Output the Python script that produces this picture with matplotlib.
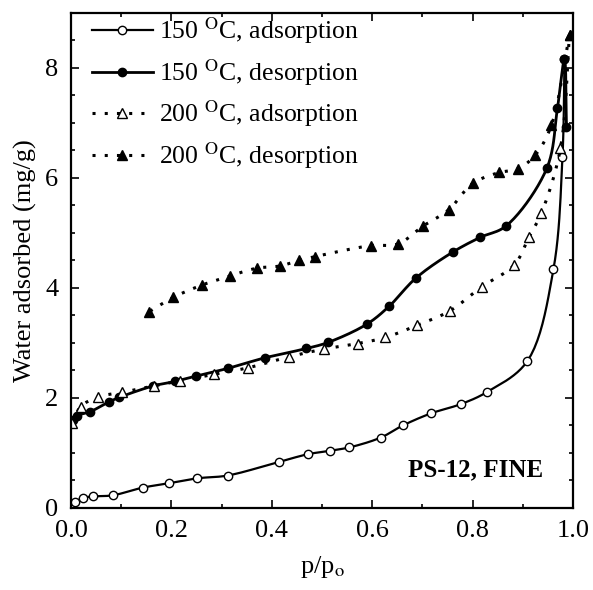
import numpy as np
import matplotlib.pyplot as plt
from matplotlib.ticker import MultipleLocator

plt.rcParams["font.family"] = ["Liberation Serif", "DejaVu Serif"]
plt.rcParams["mathtext.fontset"] = "stix"

# 150 C adsorption (open circles)
p_150_ads = [0.0, 0.008, 0.023, 0.044, 0.083, 0.143, 0.195, 0.252, 0.312, 0.415, 0.473,
             0.516, 0.554, 0.617, 0.661, 0.717, 0.777, 0.829, 0.909, 0.961, 0.979, 0.983]
w_150_ads = [0.02, 0.10, 0.18, 0.21, 0.23, 0.37, 0.45, 0.54, 0.59, 0.84, 0.98,
             1.04, 1.10, 1.28, 1.50, 1.72, 1.89, 2.11, 2.67, 4.34, 6.39, 8.16]

# 150 C desorption (filled circles)
p_150_des = [0.987, 0.983, 0.969, 0.948, 0.867, 0.815, 0.760, 0.687, 0.634, 0.589, 0.512,
             0.469, 0.386, 0.313, 0.250, 0.207, 0.164, 0.096, 0.076, 0.038, 0.012, 0.005]
w_150_des = [6.92, 8.16, 7.27, 6.18, 5.13, 4.92, 4.65, 4.18, 3.67, 3.34, 3.01,
             2.90, 2.73, 2.54, 2.40, 2.30, 2.22, 2.01, 1.93, 1.75, 1.68, 1.60]

# 200 C adsorption (open triangles)
p_200_ads = [0.003, 0.019, 0.054, 0.101, 0.165, 0.218, 0.284, 0.353, 0.435, 0.504, 0.571,
             0.626, 0.689, 0.754, 0.818, 0.883, 0.912, 0.937, 0.975, 0.993]
w_200_ads = [1.55, 1.84, 2.02, 2.10, 2.22, 2.31, 2.43, 2.55, 2.75, 2.89, 2.99,
             3.10, 3.32, 3.58, 4.02, 4.42, 4.92, 5.36, 6.54, 8.60]

# 200 C desorption (filled triangles)
p_200_des = [0.993, 0.957, 0.925, 0.891, 0.853, 0.800, 0.752, 0.702, 0.651, 0.597, 0.486,
             0.455, 0.416, 0.370, 0.317, 0.260, 0.204, 0.156]
w_200_des = [8.60, 6.96, 6.42, 6.17, 6.10, 5.90, 5.42, 5.13, 4.80, 4.77, 4.57,
             4.50, 4.40, 4.36, 4.22, 4.05, 3.83, 3.57]

labels = [r"150 $^{\mathrm{O}}$C, adsorption", r"150 $^{\mathrm{O}}$C, desorption",
          r"200 $^{\mathrm{O}}$C, adsorption", r"200 $^{\mathrm{O}}$C, desorption"]


def smooth(x, y, n=12):
    # centripetal Catmull-Rom through the points (x and y scaled to similar ranges)
    P = np.column_stack([np.asarray(x, float), np.asarray(y, float) / 9.0])
    P = np.vstack([2 * P[0] - P[1], P, 2 * P[-1] - P[-2]])
    out = []
    for i in range(1, len(P) - 2):
        p0, p1, p2, p3 = P[i - 1], P[i], P[i + 1], P[i + 2]
        t0 = 0.0
        t1 = t0 + np.linalg.norm(p1 - p0) ** 0.5 + 1e-9
        t2 = t1 + np.linalg.norm(p2 - p1) ** 0.5 + 1e-9
        t3 = t2 + np.linalg.norm(p3 - p2) ** 0.5 + 1e-9
        t = np.linspace(t1, t2, n)[:, None]
        a1 = (t1 - t) / (t1 - t0) * p0 + (t - t0) / (t1 - t0) * p1
        a2 = (t2 - t) / (t2 - t1) * p1 + (t - t1) / (t2 - t1) * p2
        a3 = (t3 - t) / (t3 - t2) * p2 + (t - t2) / (t3 - t2) * p3
        b1 = (t2 - t) / (t2 - t0) * a1 + (t - t0) / (t2 - t0) * a2
        b2 = (t3 - t) / (t3 - t1) * a2 + (t - t1) / (t3 - t1) * a3
        c = (t2 - t) / (t2 - t1) * b1 + (t - t1) / (t2 - t1) * b2
        out.append(c)
    C = np.vstack(out)
    return C[:, 0], C[:, 1] * 9.0


fig = plt.figure(figsize=(5.93, 5.90), dpi=100)
ax = fig.add_axes([0.1197, 0.139, 0.8466, 0.839])

dots = (0, (1, 3))
series = [
    (p_150_ads, w_150_ads, "-", 1.6, "o", 6, "white"),
    (p_150_des, w_150_des, "-", 2.0, "o", 6, "black"),
    (p_200_ads, w_200_ads, dots, 2.2, "^", 7, "white"),
    (p_200_des, w_200_des, dots, 2.2, "^", 7, "black"),
]
for (px, py, ls, lw, mk, ms, fc), lab in zip(series, labels):
    sx, sy = smooth(px, py)
    ax.plot(sx, sy, linestyle=ls, color="black", lw=lw)
    ax.plot(px, py, linestyle="none", marker=mk, ms=ms, mfc=fc, mec="black", mew=1.0)
    ax.plot([], [], linestyle=ls, color="black", lw=lw, marker=mk, ms=ms,
            mfc=fc, mec="black", mew=1.0, label=lab)

ax.set_xlim(0, 1.0)
ax.set_ylim(0, 9)
ax.xaxis.set_major_locator(MultipleLocator(0.2))
ax.xaxis.set_minor_locator(MultipleLocator(0.1))
ax.yaxis.set_major_locator(MultipleLocator(2))
ax.yaxis.set_minor_locator(MultipleLocator(0.5))
ax.xaxis.set_major_formatter(plt.FuncFormatter(lambda v, _: f"{v:.1f}"))
ax.tick_params(which="both", direction="in", top=True, right=True, labelsize=19, width=1.2)
ax.tick_params(which="major", length=6, pad=9)
ax.tick_params(which="minor", length=3)
for s in ax.spines.values():
    s.set_linewidth(1.6)

ax.set_xlabel(r"p/p$_{\mathrm{o}}$", fontsize=19, labelpad=8)
ax.set_ylabel("Water adsorbed (mg/g)", fontsize=19, labelpad=6)

ax.text(0.94, 0.69, "PS-12, FINE", fontsize=18, fontweight="bold", ha="right", va="center")

ax.legend(loc="upper left", bbox_to_anchor=(0.037, 1.0), frameon=False, fontsize=18.5,
          handlelength=2.35, handletextpad=0.25, labelspacing=0.42,
          borderaxespad=0.1, borderpad=0.0)

plt.savefig("out.png", dpi=100)
